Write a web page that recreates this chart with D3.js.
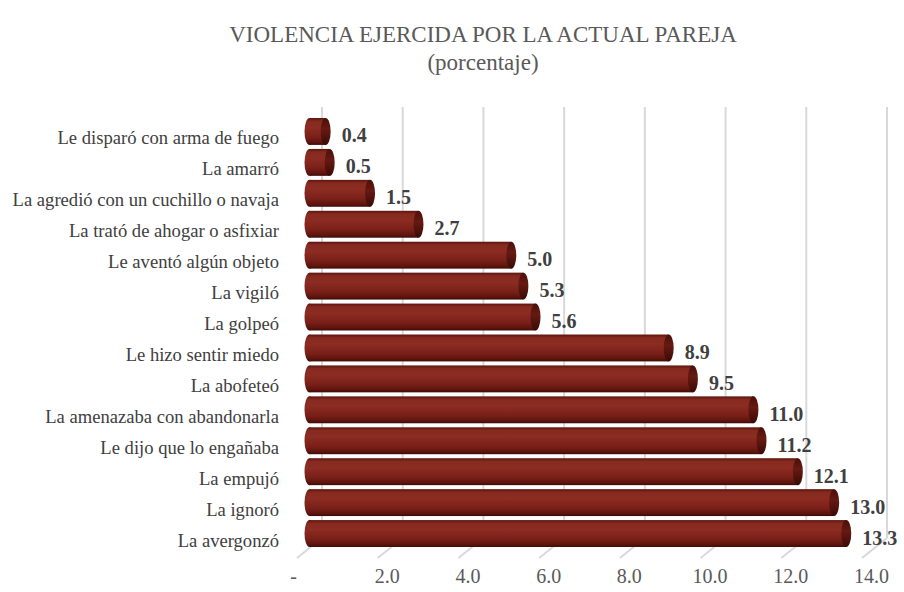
<!DOCTYPE html>
<html>
<head>
<meta charset="utf-8">
<script src="https://cdn.jsdelivr.net/npm/d3@7"></script>
<style>
  body { margin: 0; background: #fff; }
  svg text { font-family: "Liberation Serif", "DejaVu Serif", serif; }
</style>
</head>
<body>
<svg id="chart" width="904" height="592"></svg>
<script>
// data, top to bottom as in the chart
const categories = [
  "Le disparó con arma de fuego",
  "La amarró",
  "La agredió con un cuchillo o navaja",
  "La trató de ahogar o asfixiar",
  "Le aventó algún objeto",
  "La vigiló ",
  "La golpeó",
  "Le hizo sentir miedo",
  "La abofeteó",
  "La amenazaba con abandonarla",
  "Le dijo que lo engañaba",
  "La empujó",
  "La ignoró",
  "La avergonzó"
];
const values = [0.4, 0.5, 1.5, 2.7, 5.0, 5.3, 5.6, 8.9, 9.5, 11.0, 11.2, 12.1, 13.0, 13.3];
const tickValues = [0, 2, 4, 6, 8, 10, 12, 14];
const title = "VIOLENCIA EJERCIDA POR LA ACTUAL PAREJA";
const subtitle = "(porcentaje)";

const svg = d3.select("#chart");

// 3d-ish layout: back wall, floor depth offset
const DX = -25, DY = 20;
const wallTop = 107, wallBottom = 538;

const xBack = d3.scaleLinear().domain([0, 14]).range([322, 887]);
const xBar = xBack.copy().range(xBack.range().map(d => d + DX / 2));
const xLabel = xBack.copy().range(xBack.range().map(d => d - 16));

const y = d3.scaleBand()
  .domain(categories)
  .range([116, 549])
  .paddingInner(0.13)
  .paddingOuter(0.065);

// gradients for the cylinders
const defs = svg.append("defs");
const body = defs.append("linearGradient")
  .attr("id", "barBody").attr("x1", 0).attr("y1", 0).attr("x2", 0).attr("y2", 1);
[[0, "#5c140d"], [0.12, "#862a20"], [0.35, "#8c2c22"], [0.7, "#7a2018"], [0.9, "#5e150e"], [1, "#3f0b06"]]
  .forEach(s => body.append("stop").attr("offset", s[0]).attr("stop-color", s[1]));
const cap = defs.append("linearGradient")
  .attr("id", "barCap").attr("x1", 0).attr("y1", 0).attr("x2", 0).attr("y2", 1);
[[0, "#4a0f09"], [0.4, "#661a12"], [1, "#3a0a05"]]
  .forEach(s => cap.append("stop").attr("offset", s[0]).attr("stop-color", s[1]));

// title
svg.append("text")
  .attr("x", 483).attr("y", 42)
  .attr("text-anchor", "middle")
  .attr("fill", "#595959")
  .style("font-size", "23px")
  .text(title);
svg.append("text")
  .attr("x", 483).attr("y", 70)
  .attr("text-anchor", "middle")
  .attr("fill", "#595959")
  .style("font-size", "23px")
  .text(subtitle);

// back wall gridlines
svg.append("g").selectAll("line")
  .data(tickValues)
  .join("line")
  .attr("x1", d => xBack(d)).attr("x2", d => xBack(d))
  .attr("y1", wallTop).attr("y2", wallBottom)
  .attr("stroke", "#d9d9d9").attr("stroke-width", 2);

// floor lines
svg.append("g").selectAll("line")
  .data(tickValues)
  .join("line")
  .attr("x1", d => xBack(d)).attr("y1", wallBottom)
  .attr("x2", d => xBack(d) + DX).attr("y2", wallBottom + DY)
  .attr("stroke", "#d9d9d9").attr("stroke-width", 2);

// bars
const rx = 5;
const bars = svg.append("g").selectAll("g")
  .data(values)
  .join("g");

bars.append("rect")
  .attr("x", xBar(0))
  .attr("y", (d, i) => y(categories[i]))
  .attr("width", d => xBar(d) - xBar(0))
  .attr("height", y.bandwidth())
  .attr("fill", "url(#barBody)");

bars.append("ellipse")
  .attr("cx", xBar(0))
  .attr("cy", (d, i) => y(categories[i]) + y.bandwidth() / 2)
  .attr("rx", rx).attr("ry", y.bandwidth() / 2)
  .attr("fill", "url(#barBody)");

bars.append("ellipse")
  .attr("cx", d => xBar(d))
  .attr("cy", (d, i) => y(categories[i]) + y.bandwidth() / 2)
  .attr("rx", rx).attr("ry", y.bandwidth() / 2)
  .attr("fill", "url(#barCap)");

// value labels
svg.append("g").selectAll("text")
  .data(values)
  .join("text")
  .attr("x", d => xBar(d) + rx + 11)
  .attr("y", (d, i) => y(categories[i]) + y.bandwidth() / 2 + 11)
  .attr("fill", "#404040")
  .style("font-size", "20px")
  .style("font-weight", "bold")
  .text(d => d.toFixed(1));

// category labels (they sit on the front edge, so a bit lower than the bars)
svg.append("g").selectAll("text")
  .data(categories)
  .join("text")
  .attr("x", 279)
  .attr("y", d => y(d) + y.bandwidth() / 2 + 13)
  .attr("text-anchor", "end")
  .attr("fill", "#404040")
  .style("font-size", "18.6px")
  .text(d => d);

// x axis (front edge of floor)
const axis = svg.append("g")
  .attr("transform", `translate(0,${569})`)
  .call(d3.axisBottom(xLabel)
    .tickValues(tickValues)
    .tickSize(0)
    .tickPadding(0)
    .tickFormat(d => d === 0 ? "-" : d3.format(".1f")(d)));
axis.select(".domain").remove();
axis.selectAll("text")
  .attr("fill", "#595959")
  .style("font-size", "20px")
  .style("font-family", "'Liberation Serif', serif")
  .attr("dx", d => d === 0 ? "-0.65em" : 0);
</script>
</body>
</html>
